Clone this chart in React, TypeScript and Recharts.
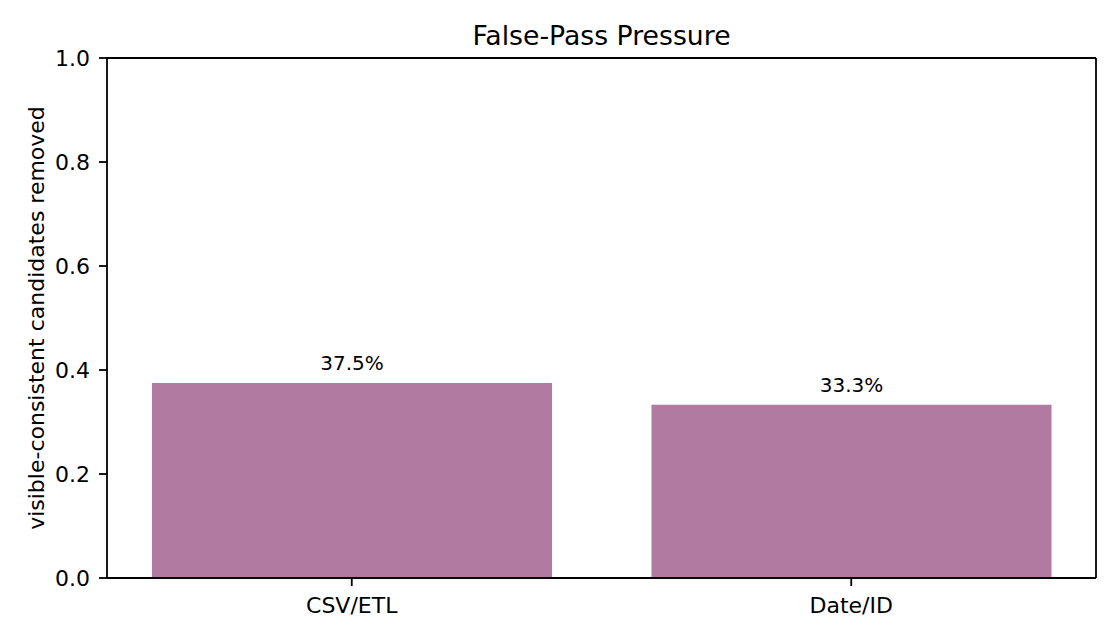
import { Bar, BarChart, LabelList, ReferenceLine, XAxis, YAxis } from "recharts"

const categories = ["CSV/ETL", "Date/ID"]
const removedShare = [0.375, 0.333]
const yTicks = [0, 0.2, 0.4, 0.6, 0.8, 1.0]

const data = categories.map((name, i) => ({ pos: i, name, value: removedShare[i] }))

const FONT = "'DejaVu Sans', sans-serif"
const BAR_COLOR = "#b07aa1"
const SPINE = 1.8

const YLabel = ({ viewBox }: any) => {
  const cx = viewBox.x + 43.5
  const cy = viewBox.y + viewBox.height / 2
  return (
    <text
      x={cx}
      y={cy}
      transform={`rotate(-90, ${cx}, ${cy})`}
      textAnchor="middle"
      fontSize={22}
      fill="#000"
    >
      visible-consistent candidates removed
    </text>
  )
}

export default function App() {
  return (
    <div
      style={{
        position: "absolute",
        left: 0,
        top: 0,
        width: 1120,
        height: 640,
        background: "#fff",
        fontFamily: FONT,
      }}
    >
      <BarChart
        width={1120}
        height={640}
        data={data}
        margin={{ top: 58, right: 24, bottom: 0, left: 0 }}
      >
        <XAxis
          dataKey="pos"
          type="number"
          domain={[-0.49, 1.49]}
          allowDataOverflow
          ticks={[0, 1]}
          tickFormatter={(v) => categories[v]}
          height={62}
          tickSize={8}
          tickMargin={11}
          axisLine={{ stroke: "#000", strokeWidth: SPINE }}
          tickLine={{ stroke: "#000", strokeWidth: SPINE }}
          tick={{ fill: "#000", fontSize: 22 }}
        />
        <YAxis
          type="number"
          domain={[0, 1]}
          ticks={yTicks}
          width={107}
          tickFormatter={(v) => v.toFixed(1)}
          tickSize={8}
          tickMargin={9}
          axisLine={{ stroke: "#000", strokeWidth: SPINE }}
          tickLine={{ stroke: "#000", strokeWidth: SPINE }}
          tick={{ fill: "#000", fontSize: 22 }}
          label={<YLabel />}
        />
        <Bar dataKey="value" fill={BAR_COLOR} barSize={400} isAnimationActive={false}>
          <LabelList
            dataKey="value"
            position="top"
            offset={13}
            formatter={(v: any) => `${(v * 100).toFixed(1)}%`}
            fill="#000"
            fontSize={20}
          />
        </Bar>
        <ReferenceLine y={1} stroke="#000" strokeWidth={SPINE} />
        <ReferenceLine x={1.49} stroke="#000" strokeWidth={SPINE} />
      </BarChart>
      <svg
        width={1120}
        height={640}
        style={{ position: "absolute", left: 0, top: 0, pointerEvents: "none" }}
      >
        <text x={601.5} y={45} textAnchor="middle" fontSize={26.7} fill="#000">
          False-Pass Pressure
        </text>
      </svg>
    </div>
  )
}
